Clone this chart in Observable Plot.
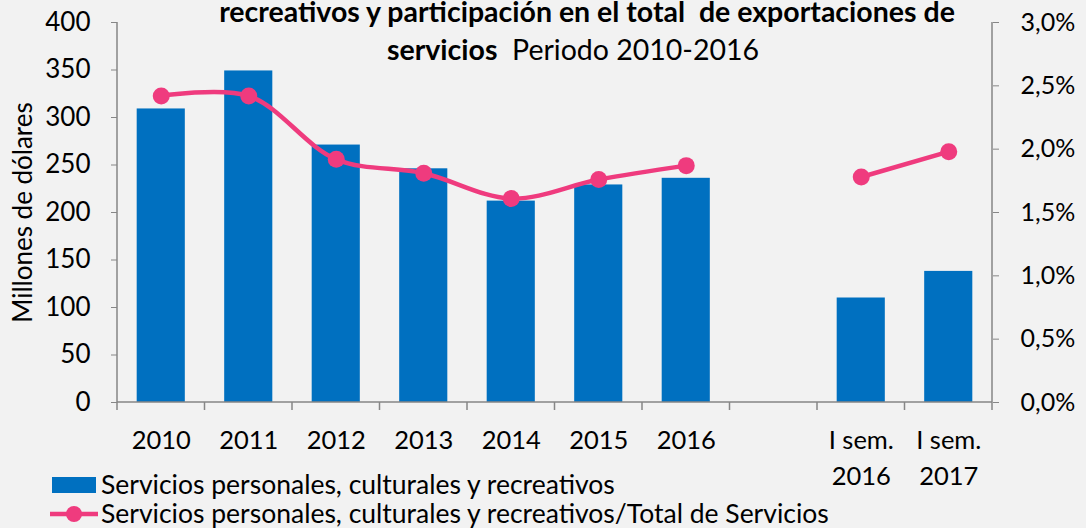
<!DOCTYPE html>
<html><head><meta charset="utf-8">
<script src="https://cdn.jsdelivr.net/npm/d3@7"></script>
<script src="https://cdn.jsdelivr.net/npm/@observablehq/plot@0.6"></script>
<style>
html,body{margin:0;padding:0;background:#f2f2f2;}
#wrap{position:relative;width:1086px;height:528px;overflow:hidden;}
</style></head><body><div id="wrap"></div><script>
// ---- data ----
const categories = ["2010","2011","2012","2013","2014","2015","2016"," ","I sem.\n2016","I sem.\n2017"];
const barCategories = ["2010","2011","2012","2013","2014","2015","2016","I sem.\n2016","I sem.\n2017"];
const barValues = [309, 349, 271, 246, 212, 229, 236, 110, 138];
const shareValues = [2.42, 2.42, 1.92, 1.81, 1.61, 1.76, 1.87, 1.78, 1.98];
const shareGroups = ["anual","anual","anual","anual","anual","anual","anual","semestral","semestral"];
const leftTicks = [0,50,100,150,200,250,300,350,400];
const rightTicks = [0,0.5,1.0,1.5,2.0,2.5,3.0];
const barName = "Servicios personales, culturales y recreativos";
const lineName = "Servicios personales, culturales y recreativos/Total de Servicios";

const FONT = "Lato, 'Open Sans', sans-serif";
const BLUE = "#0070c0", PINK = "#ef3b7e", GRAY = "#868686";
const toLeft = v => v * 400 / 3;
const pctFmt = d => (d*3/400).toFixed(1).replace(".",",")+"%";

const rows = barCategories.map((c,i) => ({cat:c, value:barValues[i], share:shareValues[i], group:shareGroups[i]}));

const plot = Plot.plot({
  width:1086, height:528,
  marginLeft:117, marginRight:94, marginTop:22, marginBottom:126,
  style:{background:"transparent", fontFamily:FONT, fontSize:"24.5px", color:"#000"},
  x:{domain:categories, paddingInner:0.45, paddingOuter:0.225, round:false},
  y:{domain:[0,400]},
  marks:[
    Plot.barY(rows, {x:"cat", y:"value", fill:BLUE}),
    Plot.line(rows, {x:"cat", y:d=>toLeft(d.share), z:"group", stroke:PINK, strokeWidth:4.5, curve:"catmull-rom"}),
    Plot.dot(rows, {x:"cat", y:d=>toLeft(d.share), r:8.5, fill:PINK}),
    // left axis: ticks, labels, title
    Plot.axisY({anchor:"left", ticks:leftTicks, tickSize:6, text:null, stroke:GRAY, label:null}),
    Plot.axisY({anchor:"left", ticks:leftTicks, tickSize:0, tickPadding:0, dx:-27, label:"Millones de dólares", labelAnchor:"center", labelOffset:104, labelArrow:false, fontSize:26}),
    // right axis (percent mapped onto the same scale)
    Plot.axisY({anchor:"right", ticks:rightTicks.map(toLeft), tickSize:6, text:null, stroke:GRAY, label:null}),
    Plot.axisY({anchor:"right", ticks:rightTicks.map(toLeft), tickFormat:pctFmt, tickSize:0, tickPadding:0, dx:28, label:null, fontSize:25}),
    Plot.axisX({tickSize:0, tickPadding:21, lineHeight:1.41, label:null, fontSize:25.5})
  ]
});
document.getElementById("wrap").appendChild(plot);

// axis lines and boundary ticks
const xs = plot.scale("x"), ys = plot.scale("y");
const svg = d3.select(plot);
const [x0, x1] = xs.range;
const y0 = ys.apply(0), yTop = ys.apply(400);
const g = svg.append("g").attr("stroke", GRAY).attr("stroke-width", 1.5).attr("fill","none");
g.append("line").attr("x1", x0).attr("x2", x0).attr("y1", yTop).attr("y2", y0);
g.append("line").attr("x1", x1).attr("x2", x1).attr("y1", yTop).attr("y2", y0);
g.append("line").attr("x1", x0).attr("x2", x1).attr("y1", y0).attr("y2", y0);
const n = categories.length;
for (let i = 0; i <= n; i++) {
  const x = x0 + i * (x1 - x0) / n;
  g.append("line").attr("x1", x).attr("x2", x).attr("y1", y0).attr("y2", y0 + 8);
}

// title
const t = svg.append("g").attr("font-family", FONT).attr("fill", "#000").attr("text-anchor","middle");
t.append("text").attr("x", 587).attr("y", 22).attr("font-size", 28.5).attr("font-weight", "bold")
  .text("recreativos y participación en el total  de exportaciones de");
const t2 = t.append("text").attr("x", 573).attr("y", 60).attr("font-size", 28.5);
t2.append("tspan").attr("font-weight","bold").text("servicios");
t2.append("tspan").text("  Periodo 2010-2016");

// legend
const L = svg.append("g").attr("font-family", FONT).attr("font-size", 26.5).attr("fill","#000").attr("text-anchor","start");
L.append("rect").attr("x", 52).attr("y", 477).attr("width", 44).attr("height", 16).attr("fill", BLUE);
L.append("text").attr("x", 101).attr("y", 494).text(barName);
L.append("line").attr("x1", 50).attr("x2", 98).attr("y1", 514).attr("y2", 514).attr("stroke", PINK).attr("stroke-width", 4.5);
L.append("circle").attr("cx", 74).attr("cy", 514).attr("r", 8).attr("fill", PINK);
L.append("text").attr("x", 101).attr("y", 523).text(lineName);
</script></body></html>
